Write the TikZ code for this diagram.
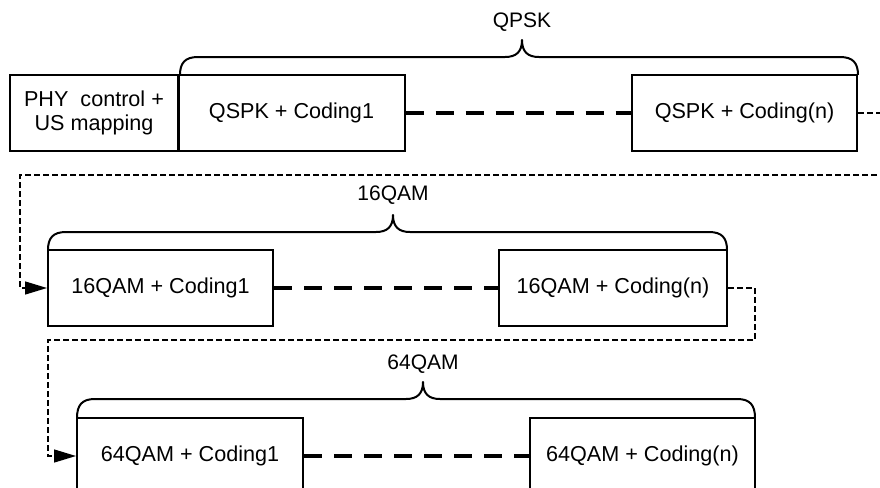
\documentclass[tikz,border=0pt]{standalone}
\usepackage{fontspec}
\setmainfont{Liberation Sans}
\usetikzlibrary{arrows.meta}

\begin{document}
\begin{tikzpicture}[x=0.5pt,y=-0.5pt,
  box/.style={draw, line width=1pt, minimum width=113pt, minimum height=38pt,
    inner sep=0pt, align=center, font=\fontsize{10.8}{12}\selectfont},
  lbl/.style={font=\fontsize{10.5}{12}\selectfont},
  link/.style={line width=2pt, dash pattern=on 9pt off 6pt},
  flow/.style={line width=0.65pt, dash pattern=on 3pt off 1.5pt,
    -{Triangle[length=11pt,width=6.5pt]}},
  grp/.style={line width=1pt, line join=round}]
  \useasboundingbox (0,0) rectangle (880,488);

  % group brace: left x, right x, tip x, line y, box top y
  \def\modbrace#1#2#3#4#5{%
    \draw[grp] (#1,#5) .. controls (#1,#4+6) and (#1+5,#4) .. (#1+18,#4)
      -- (#3-17,#4) .. controls (#3-6,#4) and (#3,#4-5) .. (#3,#4-17)
      .. controls (#3,#4-5) and (#3+6,#4) .. (#3+17,#4)
      -- (#2-18,#4) .. controls (#2-5,#4) and (#2,#4+6) .. (#2,#5);}

  % QPSK row
  \node[box, minimum width=84pt] (phy) at (94,113) {PHY\ \ control +\\US mapping};
  \node[box] (qspka) at (291.5,113) {QSPK + Coding1};
  \node[box, minimum width=112.5pt] (qspkn) at (744.5,113) {QSPK + Coding(n)};
  \modbrace{180}{858}{522}{57}{75}
  \node[lbl] (qpsk) at (522,22) {QPSK};
  \draw[link] (qspka) -- (qspkn);

  % 16QAM row
  \node[box, minimum width=112.5pt] (qama) at (160.5,288) {16QAM + Coding1};
  \node[box, minimum width=114pt] (qamn) at (613,288) {16QAM + Coding(n)};
  \modbrace{48}{727}{393}{232}{250}
  \node[lbl] (qam) at (393,195) {16QAM};
  \draw[link] (qama) -- (qamn);

  % 64QAM row
  \node[box] (bigqama) at (190,456) {64QAM + Coding1};
  \node[box, minimum width=112.5pt] (bigqamn) at (642.5,456) {64QAM + Coding(n)};
  \modbrace{77}{755}{423}{399}{418}
  \node[lbl] (bigqam) at (423,364) {64QAM};
  \draw[link] (bigqama) -- (bigqamn);

  % row to row
  \coordinate (t1) at (895,175);
  \coordinate (l1) at (20,175);
  \coordinate (t2) at (755,340);
  \coordinate (l2) at (48,340);
  \draw[flow] (qspkn.east) -| (t1) -- (l1) |- (qama.west);
  \draw[flow] (qamn.east) -| (t2) -- (l2) |- (bigqama.west);
\end{tikzpicture}
\end{document}
